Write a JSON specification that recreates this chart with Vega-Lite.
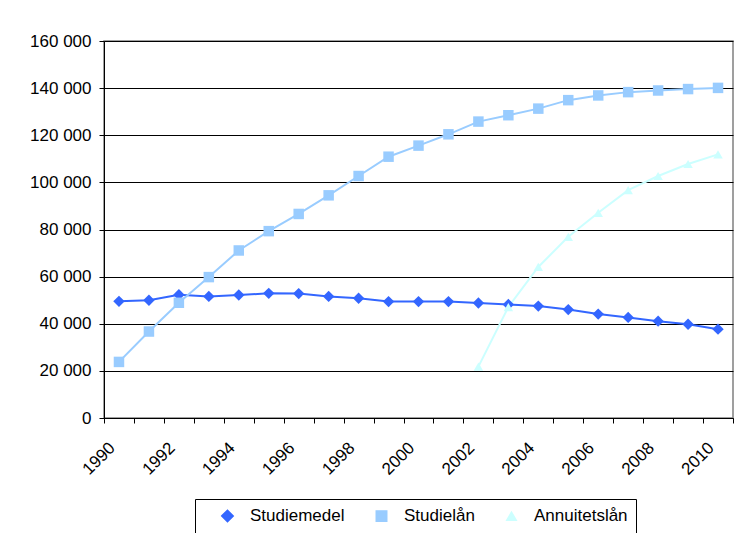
{
  "$schema": "https://vega.github.io/schema/vega-lite/v6.json",
  "autosize": {"type": "none"},
  "width": 629,
  "height": 377,
  "padding": {"left": 104, "top": 41, "right": 6, "bottom": 115},
  "background": "white",
  "config": {
    "font": "Liberation Sans",
    "view": {"stroke": "#808080", "strokeWidth": 1.5},
    "axis": {
      "labelFont": "Liberation Sans",
      "labelFontSize": 17,
      "labelColor": "black",
      "domainColor": "black",
      "tickColor": "black",
      "tickSize": 5,
      "title": null
    }
  },
  "data": {
    "values": [
      {"year": "1990", "series": "Studiemedel", "value": 49500},
      {"year": "1991", "series": "Studiemedel", "value": 50000},
      {"year": "1992", "series": "Studiemedel", "value": 52300},
      {"year": "1993", "series": "Studiemedel", "value": 51600},
      {"year": "1994", "series": "Studiemedel", "value": 52200},
      {"year": "1995", "series": "Studiemedel", "value": 52900},
      {"year": "1996", "series": "Studiemedel", "value": 52800},
      {"year": "1997", "series": "Studiemedel", "value": 51600},
      {"year": "1998", "series": "Studiemedel", "value": 50800},
      {"year": "1999", "series": "Studiemedel", "value": 49400},
      {"year": "2000", "series": "Studiemedel", "value": 49400},
      {"year": "2001", "series": "Studiemedel", "value": 49400},
      {"year": "2002", "series": "Studiemedel", "value": 48800},
      {"year": "2003", "series": "Studiemedel", "value": 48200},
      {"year": "2004", "series": "Studiemedel", "value": 47500},
      {"year": "2005", "series": "Studiemedel", "value": 46000},
      {"year": "2006", "series": "Studiemedel", "value": 44100},
      {"year": "2007", "series": "Studiemedel", "value": 42700},
      {"year": "2008", "series": "Studiemedel", "value": 41100},
      {"year": "2009", "series": "Studiemedel", "value": 39800},
      {"year": "2010", "series": "Studiemedel", "value": 37700},
      {"year": "1990", "series": "Studielån", "value": 23800},
      {"year": "1991", "series": "Studielån", "value": 36700},
      {"year": "1992", "series": "Studielån", "value": 48900},
      {"year": "1993", "series": "Studielån", "value": 59800},
      {"year": "1994", "series": "Studielån", "value": 71100},
      {"year": "1995", "series": "Studielån", "value": 79300},
      {"year": "1996", "series": "Studielån", "value": 86600},
      {"year": "1997", "series": "Studielån", "value": 94500},
      {"year": "1998", "series": "Studielån", "value": 102700},
      {"year": "1999", "series": "Studielån", "value": 110900},
      {"year": "2000", "series": "Studielån", "value": 115600},
      {"year": "2001", "series": "Studielån", "value": 120400},
      {"year": "2002", "series": "Studielån", "value": 125800},
      {"year": "2003", "series": "Studielån", "value": 128500},
      {"year": "2004", "series": "Studielån", "value": 131300},
      {"year": "2005", "series": "Studielån", "value": 134900},
      {"year": "2006", "series": "Studielån", "value": 136900},
      {"year": "2007", "series": "Studielån", "value": 138300},
      {"year": "2008", "series": "Studielån", "value": 139000},
      {"year": "2009", "series": "Studielån", "value": 139600},
      {"year": "2010", "series": "Studielån", "value": 140100},
      {"year": "2002", "series": "Annuitetslån", "value": 21800},
      {"year": "2003", "series": "Annuitetslån", "value": 47100},
      {"year": "2004", "series": "Annuitetslån", "value": 64100},
      {"year": "2005", "series": "Annuitetslån", "value": 76900},
      {"year": "2006", "series": "Annuitetslån", "value": 87100},
      {"year": "2007", "series": "Annuitetslån", "value": 96700},
      {"year": "2008", "series": "Annuitetslån", "value": 102700},
      {"year": "2009", "series": "Annuitetslån", "value": 107800},
      {"year": "2010", "series": "Annuitetslån", "value": 111900}
    ]
  },
  "encoding": {
    "x": {
      "field": "year",
      "type": "ordinal",
      "scale": {"type": "band", "paddingInner": 0, "paddingOuter": 0},
      "axis": {
        "tickBand": "extent",
        "labelAngle": -45,
        "labelAlign": "right",
        "labelBaseline": "middle",
        "labelPadding": 22,
        "labelOffset": -7,
        "labelOverlap": false,
        "labelExpr": "toNumber(datum.value) % 2 == 0 ? datum.label : ''",
        "grid": false
      }
    },
    "y": {
      "field": "value",
      "type": "quantitative",
      "scale": {"domain": [0, 160000], "nice": false},
      "axis": {
        "values": [0, 20000, 40000, 60000, 80000, 100000, 120000, 140000, 160000],
        "labelExpr": "replace(datum.label, ',', ' ')",
        "labelPadding": 8,
        "grid": true,
        "gridColor": "black",
        "gridOpacity": 1
      }
    },
    "color": {
      "field": "series",
      "type": "nominal",
      "scale": {
        "domain": ["Studiemedel", "Studielån", "Annuitetslån"],
        "range": ["#3366FF", "#99CCFF", "#CCFFFF"]
      },
      "legend": {
        "title": null,
        "orient": "none",
        "legendX": 91,
        "legendY": 458,
        "direction": "horizontal",
        "strokeColor": "black",
        "padding": 8,
        "labelFont": "Liberation Sans",
        "labelFontSize": 17,
        "labelColor": "black",
        "labelOffset": 14,
        "columnPadding": 12,
        "symbolSize": 144,
        "symbolOffset": 16
      }
    }
  },
  "layer": [
    {
      "mark": {"type": "line", "strokeWidth": 2},
      "encoding": {"detail": {"field": "series"}}
    },
    {
      "mark": {"type": "point", "filled": true, "opacity": 1},
      "encoding": {
        "shape": {
          "field": "series",
          "type": "nominal",
          "scale": {
            "domain": ["Studiemedel", "Studielån", "Annuitetslån"],
            "range": ["diamond", "square", "triangle-up"]
          },
          "legend": null
        },
        "size": {
          "field": "series",
          "type": "nominal",
          "scale": {
            "domain": ["Studiemedel", "Studielån", "Annuitetslån"],
            "range": [130, 90, 140]
          },
          "legend": null
        }
      }
    }
  ]
}
